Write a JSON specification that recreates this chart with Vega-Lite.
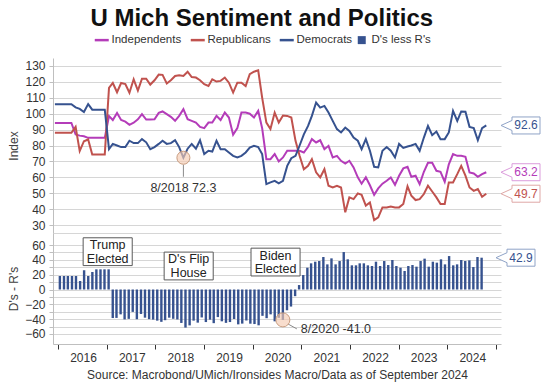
{
  "$schema": "https://vega.github.io/schema/vega-lite/v6.json",
  "background": "white",
  "padding": {"left": 7, "top": 6, "right": 2, "bottom": 2},
  "title": {"text": "U Mich Sentiment and Politics", "fontSize": 24, "fontWeight": "bold", "color": "#111111", "font": "Liberation Sans", "anchor": "middle", "offset": 3.5, "dx": -13},
  "datasets": {
    "main": [
      {"date":"2016-01-15","Independents":94.2,"Republicans":88,"Democrats":106,"DR":18.2},
      {"date":"2016-02-15","Independents":94.2,"Republicans":88,"Democrats":106,"DR":18.2},
      {"date":"2016-03-15","Independents":94.2,"Republicans":88,"Democrats":106,"DR":18.2},
      {"date":"2016-04-15","Independents":94.2,"Republicans":88,"Democrats":106,"DR":18.2},
      {"date":"2016-05-15","Independents":94.2,"Republicans":88,"Democrats":106,"DR":18.2},
      {"date":"2016-06-15","Independents":86.9,"Republicans":91.7,"Democrats":104,"DR":11.5},
      {"date":"2016-07-15","Independents":86.2,"Republicans":76.5,"Democrats":103,"DR":25.8},
      {"date":"2016-08-15","Independents":85.8,"Republicans":82.7,"Democrats":101,"DR":18.2},
      {"date":"2016-09-15","Independents":84.8,"Republicans":83.8,"Democrats":106,"DR":23.6},
      {"date":"2016-10-15","Independents":84.8,"Republicans":74.4,"Democrats":102.5,"DR":27.2},
      {"date":"2016-11-15","Independents":84.8,"Republicans":74.4,"Democrats":102.5,"DR":27.2},
      {"date":"2016-12-15","Independents":84.8,"Republicans":74.4,"Democrats":102.5,"DR":27.2},
      {"date":"2017-01-15","Independents":84.8,"Republicans":74.4,"Democrats":102.5,"DR":27.2},
      {"date":"2017-02-15","Independents":98.5,"Republicans":116.2,"Democrats":77.7,"DR":-38.5},
      {"date":"2017-03-15","Independents":96,"Republicans":119.3,"Democrats":81,"DR":-38.3},
      {"date":"2017-04-15","Independents":100.5,"Republicans":113.5,"Democrats":80,"DR":-33.5},
      {"date":"2017-05-15","Independents":96,"Republicans":119.3,"Democrats":79,"DR":-40.3},
      {"date":"2017-06-15","Independents":95,"Republicans":118.6,"Democrats":79,"DR":-39.6},
      {"date":"2017-07-15","Independents":93,"Republicans":113.2,"Democrats":83,"DR":-30.2},
      {"date":"2017-08-15","Independents":94.3,"Republicans":121.6,"Democrats":81.5,"DR":-40.1},
      {"date":"2017-09-15","Independents":96.4,"Republicans":114.5,"Democrats":81.5,"DR":-33},
      {"date":"2017-10-15","Independents":99.7,"Republicans":122,"Democrats":84,"DR":-38},
      {"date":"2017-11-15","Independents":96.3,"Republicans":122,"Democrats":82,"DR":-40},
      {"date":"2017-12-15","Independents":96.3,"Republicans":118.3,"Democrats":77.7,"DR":-40.6},
      {"date":"2018-01-15","Independents":96.5,"Republicans":121,"Democrats":79,"DR":-42},
      {"date":"2018-02-15","Independents":100.5,"Republicans":124.6,"Democrats":81,"DR":-43.6},
      {"date":"2018-03-15","Independents":101.4,"Republicans":124.4,"Democrats":83,"DR":-41.4},
      {"date":"2018-04-15","Independents":99.7,"Republicans":119,"Democrats":81,"DR":-38},
      {"date":"2018-05-15","Independents":98,"Republicans":121,"Democrats":81.5,"DR":-39.5},
      {"date":"2018-06-15","Independents":95.5,"Republicans":123.7,"Democrats":83.3,"DR":-40.4},
      {"date":"2018-07-15","Independents":98.6,"Republicans":124.1,"Democrats":79,"DR":-45.1},
      {"date":"2018-08-15","Independents":102.8,"Republicans":123.7,"Democrats":72.3,"DR":-51.4},
      {"date":"2018-09-15","Independents":96.5,"Republicans":126.4,"Democrats":78,"DR":-48.4},
      {"date":"2018-10-15","Independents":95.5,"Republicans":123,"Democrats":81,"DR":-42},
      {"date":"2018-11-15","Independents":94.4,"Republicans":122.7,"Democrats":78,"DR":-44.7},
      {"date":"2018-12-15","Independents":91.7,"Republicans":121,"Democrats":83.3,"DR":-37.7},
      {"date":"2019-01-15","Independents":90.9,"Republicans":118.5,"Democrats":74.6,"DR":-43.9},
      {"date":"2019-02-15","Independents":94.4,"Republicans":117.4,"Democrats":76.7,"DR":-40.7},
      {"date":"2019-03-15","Independents":94.4,"Republicans":121.6,"Democrats":76.2,"DR":-45.4},
      {"date":"2019-04-15","Independents":98.6,"Republicans":120.2,"Democrats":83,"DR":-37.2},
      {"date":"2019-05-15","Independents":96,"Republicans":120.6,"Democrats":77.7,"DR":-42.9},
      {"date":"2019-06-15","Independents":100.7,"Republicans":122.7,"Democrats":77.7,"DR":-45},
      {"date":"2019-07-15","Independents":97.6,"Republicans":119.5,"Democrats":75.6,"DR":-43.9},
      {"date":"2019-08-15","Independents":86.7,"Republicans":113.3,"Democrats":73.5,"DR":-39.8},
      {"date":"2019-09-15","Independents":90.9,"Republicans":119.5,"Democrats":72.5,"DR":-47},
      {"date":"2019-10-15","Independents":100.7,"Republicans":119.5,"Democrats":73.5,"DR":-46},
      {"date":"2019-11-15","Independents":100.7,"Republicans":117.4,"Democrats":75.6,"DR":-41.8},
      {"date":"2019-12-15","Independents":100,"Republicans":124.8,"Democrats":78.7,"DR":-46.1},
      {"date":"2020-01-15","Independents":97.6,"Republicans":126.4,"Democrats":79.8,"DR":-46.6},
      {"date":"2020-02-15","Independents":101.8,"Republicans":127.3,"Democrats":79,"DR":-48.3},
      {"date":"2020-03-15","Independents":90.9,"Republicans":110.1,"Democrats":74.6,"DR":-35.5},
      {"date":"2020-04-15","Independents":71.4,"Republicans":94.4,"Democrats":55.7,"DR":-38.7},
      {"date":"2020-05-15","Independents":71.4,"Republicans":90.3,"Democrats":56.8,"DR":-33.5},
      {"date":"2020-06-15","Independents":74.6,"Republicans":100.7,"Democrats":57.8,"DR":-42.9},
      {"date":"2020-07-15","Independents":70,"Republicans":94.4,"Democrats":56.2,"DR":-38.2},
      {"date":"2020-08-15","Independents":72.5,"Republicans":98.8,"Democrats":57.8,"DR":-41},
      {"date":"2020-09-15","Independents":76.7,"Republicans":98.6,"Democrats":67.2,"DR":-28},
      {"date":"2020-10-15","Independents":76.7,"Republicans":97.6,"Democrats":72,"DR":-23},
      {"date":"2020-11-15","Independents":76.7,"Republicans":82.9,"Democrats":73.5,"DR":-9},
      {"date":"2020-12-15","Independents":76.7,"Republicans":73.5,"Democrats":80,"DR":6},
      {"date":"2021-01-15","Independents":75.6,"Republicans":65.1,"Democrats":87,"DR":19.5},
      {"date":"2021-02-15","Independents":79.2,"Republicans":67.2,"Democrats":92.3,"DR":29.4},
      {"date":"2021-03-15","Independents":84,"Republicans":71.4,"Democrats":98.6,"DR":35.3},
      {"date":"2021-04-15","Independents":81.9,"Republicans":63.1,"Democrats":107,"DR":37.5},
      {"date":"2021-05-15","Independents":83.3,"Republicans":59.9,"Democrats":103.8,"DR":38.4},
      {"date":"2021-06-15","Independents":77.7,"Republicans":65.1,"Democrats":104.9,"DR":43.8},
      {"date":"2021-07-15","Independents":79.8,"Republicans":54.7,"Democrats":100.7,"DR":33.9},
      {"date":"2021-08-15","Independents":72.5,"Republicans":53.6,"Democrats":95.5,"DR":42},
      {"date":"2021-09-15","Independents":73.5,"Republicans":54.7,"Democrats":90.3,"DR":33.9},
      {"date":"2021-10-15","Independents":70.4,"Republicans":53.6,"Democrats":88.2,"DR":38.4},
      {"date":"2021-11-15","Independents":68.7,"Republicans":38,"Democrats":91.3,"DR":50.5},
      {"date":"2021-12-15","Independents":70.4,"Republicans":47.4,"Democrats":89.2,"DR":40.7},
      {"date":"2022-01-15","Independents":66.2,"Republicans":46.3,"Democrats":85,"DR":32.6},
      {"date":"2022-02-15","Independents":60,"Republicans":49.9,"Democrats":83,"DR":32.6},
      {"date":"2022-03-15","Independents":56,"Republicans":49,"Democrats":77.7,"DR":35.3},
      {"date":"2022-04-15","Independents":60,"Republicans":42.2,"Democrats":84,"DR":35.3},
      {"date":"2022-05-15","Independents":55,"Republicans":44.2,"Democrats":76.7,"DR":32.6},
      {"date":"2022-06-15","Independents":49,"Republicans":33.1,"Democrats":66.6,"DR":31.7},
      {"date":"2022-07-15","Independents":53,"Republicans":34.8,"Democrats":66.2,"DR":37.5},
      {"date":"2022-08-15","Independents":56,"Republicans":41.1,"Democrats":76.7,"DR":31.7},
      {"date":"2022-09-15","Independents":57.8,"Republicans":41.1,"Democrats":79,"DR":38.4},
      {"date":"2022-10-15","Independents":59.9,"Republicans":41.7,"Democrats":76.7,"DR":33},
      {"date":"2022-11-15","Independents":55.3,"Republicans":41.1,"Democrats":72.5,"DR":39.8},
      {"date":"2022-12-15","Independents":61,"Republicans":41.1,"Democrats":81,"DR":31.7},
      {"date":"2023-01-15","Independents":65.6,"Republicans":43.2,"Democrats":78.5,"DR":29.4},
      {"date":"2023-02-15","Independents":66.6,"Republicans":54.3,"Democrats":79.4,"DR":25},
      {"date":"2023-03-15","Independents":60.3,"Republicans":48.4,"Democrats":80,"DR":31.7},
      {"date":"2023-04-15","Independents":61,"Republicans":45.7,"Democrats":81,"DR":33},
      {"date":"2023-05-15","Independents":55.7,"Republicans":46.3,"Democrats":76.7,"DR":30.8},
      {"date":"2023-06-15","Independents":63.5,"Republicans":49.5,"Democrats":85,"DR":38.4},
      {"date":"2023-07-15","Independents":69.1,"Republicans":54.7,"Democrats":92.3,"DR":41.6},
      {"date":"2023-08-15","Independents":69.1,"Republicans":51.1,"Democrats":86.5,"DR":30.8},
      {"date":"2023-09-15","Independents":64.1,"Republicans":47.4,"Democrats":88.8,"DR":37.5},
      {"date":"2023-10-15","Independents":63.5,"Republicans":43.2,"Democrats":84,"DR":36.2},
      {"date":"2023-11-15","Independents":57.2,"Republicans":43.2,"Democrats":84,"DR":40.7},
      {"date":"2023-12-15","Independents":68.2,"Republicans":56.8,"Democrats":88.2,"DR":33.9},
      {"date":"2024-01-15","Independents":74.6,"Republicans":56.8,"Democrats":101.8,"DR":45.1},
      {"date":"2024-02-15","Independents":73.5,"Republicans":62,"Democrats":95.5,"DR":32.6},
      {"date":"2024-03-15","Independents":73.5,"Republicans":67.2,"Democrats":101.4,"DR":33.9},
      {"date":"2024-04-15","Independents":72.9,"Republicans":61,"Democrats":101.2,"DR":39.8},
      {"date":"2024-05-15","Independents":63.1,"Republicans":53.6,"Democrats":91.7,"DR":38.4},
      {"date":"2024-06-15","Independents":62.4,"Republicans":51.5,"Democrats":90.9,"DR":39.3},
      {"date":"2024-07-15","Independents":60.3,"Republicans":52.6,"Democrats":83.3,"DR":30.3},
      {"date":"2024-08-15","Independents":62,"Republicans":47.8,"Democrats":90.9,"DR":43.8},
      {"date":"2024-09-15","Independents":63.2,"Republicans":49.7,"Democrats":92.6,"DR":42.9}
    ],
    "lastTop": [
      {"series":"Democrats","value":92.6},
      {"series":"Independents","value":63.2},
      {"series":"Republicans","value":49.7}
    ],
    "lastBottom": [{"series":"D's less R's","value":42.9}],
    "noteTop": [{"date":"2018-08-15","value":72.3,"label":"8/2018 72.3"}],
    "noteBottom": [{"date":"2020-08-15","value":-41.0,"label":"8/2020 -41.0"}],
    "events": [
      {"date":"2017-01-08","value":51,"label":["Trump","Elected"]},
      {"date":"2018-09-08","value":31.7,"label":["D's Flip","House"]},
      {"date":"2020-06-21","value":37,"label":["Biden","Elected"]}
    ]
  },
  "spacing": 0,
  "resolve": {"scale": {"color": "shared"}, "legend": {"color": "shared"}},
  "vconcat": [
    {
      "width": 448,
      "height": 175,
      "layer": [
        {
          "data": {"name": "main"},
          "transform": [{"fold": ["Independents", "Republicans", "Democrats"], "as": ["series", "value"]}],
          "mark": {"type": "line", "strokeWidth": 2},
          "encoding": {
            "x": {"field": "date", "type": "temporal", "scale": {"domain": [{"year": 2016, "month": 1, "date": 1}, {"year": 2025, "month": 1, "date": 1}]},
              "axis": {"domain": true, "domainColor": "#d6d6d6", "ticks": false, "labels": false, "grid": false, "title": null, "minExtent": 0, "maxExtent": 0}},
            "y": {"field": "value", "type": "quantitative", "scale": {"domain": [25, 135], "nice": false, "zero": false},
              "axis": {"title": "Index", "values": [30, 40, 50, 60, 70, 80, 90, 100, 110, 120, 130], "tickCount": 50, "labelOverlap": false, "tickSize": 4, "labelPadding": 4, "titlePadding": 4, "grid": true, "gridColor": "#d6d6d6", "gridOpacity": 1, "gridWidth": 1}},
            "color": {"field": "series", "type": "nominal",
              "scale": {"domain": ["Independents", "Republicans", "Democrats", "D's less R's"], "range": ["#b43cb9", "#c0524e", "#36528f", "#36528f"]},
              "legend": {"orient": "none", "legendX": 43, "legendY": -24, "direction": "horizontal", "title": null, "labelFontSize": 11.5, "labelColor": "#333333", "symbolType": "stroke", "symbolStrokeWidth": 2.5, "symbolSize": 196, "columnPadding": 3, "labelOffset": 4,
                "encode": {"symbols": {"update": {
                  "shape": {"signal": "datum.label === \"D's less R's\" ? 'square' : 'stroke'"},
                  "size": {"signal": "datum.label === \"D's less R's\" ? 64 : 196"},
                  "fill": {"scale": "color", "field": "value"},
                  "stroke": {"scale": "color", "field": "value"},
                  "strokeWidth": {"signal": "datum.label === \"D's less R's\" ? 0 : 2.5"},
                  "opacity": {"value": 1}
                }}}}
            }
          }
        },
        {
          "data": {"name": "noteTop"},
          "mark": {"type": "rule", "color": "#8a8a8a", "strokeWidth": 1, "yOffset": 7, "y2Offset": 19},
          "encoding": {
            "x": {"field": "date", "type": "temporal"},
            "y": {"field": "value", "type": "quantitative"},
            "y2": {"field": "value"}
          }
        },
        {
          "data": {"name": "noteTop"},
          "mark": {"type": "point", "filled": true, "size": 170, "fill": "#f4cbb2", "fillOpacity": 0.65, "stroke": "#c99d80", "strokeWidth": 1, "opacity": 1},
          "encoding": {
            "x": {"field": "date", "type": "temporal"},
            "y": {"field": "value", "type": "quantitative"}
          }
        },
        {
          "data": {"name": "noteTop"},
          "mark": {"type": "text", "fontSize": 12.5, "color": "#333333", "dy": 30, "baseline": "middle", "align": "center"},
          "encoding": {
            "x": {"field": "date", "type": "temporal"},
            "y": {"field": "value", "type": "quantitative"},
            "text": {"field": "label"}
          }
        },
        {
          "data": {"name": "lastTop"},
          "mark": {"type": "point", "shape": "M0,0L1.1,-0.5L1.1,-0.85L3.9,-0.85L3.9,0.85L1.1,0.85L1.1,0.5Z", "size": 400, "filled": false, "fill": "white", "fillOpacity": 1, "strokeWidth": 1, "opacity": 1},
          "encoding": {
            "x": {"datum": {"year": 2025, "month": 1, "date": 1}, "type": "temporal"},
            "y": {"field": "value", "type": "quantitative"},
            "stroke": {"field": "series", "type": "nominal", "scale": {"domain": ["Democrats", "Independents", "Republicans"], "range": ["#8fa3c7", "#db9cdc", "#dfa8a6"]}, "legend": null}
          }
        },
        {
          "data": {"name": "lastTop"},
          "mark": {"type": "text", "fontSize": 12, "dx": 25, "baseline": "middle", "align": "center"},
          "encoding": {
            "x": {"datum": {"year": 2025, "month": 1, "date": 1}, "type": "temporal"},
            "y": {"field": "value", "type": "quantitative"},
            "text": {"field": "value", "type": "quantitative", "format": ".1f"},
            "color": {"field": "series", "type": "nominal"}
          }
        }
      ]
    },
    {
      "width": 448,
      "height": 111,
      "layer": [
        {
          "data": {"name": "main"},
          "mark": {"type": "bar", "size": 2.4},
          "encoding": {
            "x": {"field": "date", "type": "temporal", "scale": {"domain": [{"year": 2016, "month": 1, "date": 1}, {"year": 2025, "month": 1, "date": 1}]},
              "axis": {"values": [{"year": 2016, "month": 1, "date": 1}, {"year": 2017, "month": 1, "date": 1}, {"year": 2018, "month": 1, "date": 1}, {"year": 2019, "month": 1, "date": 1}, {"year": 2020, "month": 1, "date": 1}, {"year": 2021, "month": 1, "date": 1}, {"year": 2022, "month": 1, "date": 1}, {"year": 2023, "month": 1, "date": 1}, {"year": 2024, "month": 1, "date": 1}, {"year": 2025, "month": 1, "date": 1}],
                "tickCount": 50, "format": "%Y", "labelExpr": "year(datum.value) >= 2025 ? '' : datum.label", "labelOffset": 25, "labelFlush": false, "labelOverlap": false, "labelBound": false,
                "tickSize": 5, "tickColor": "#333333", "labelPadding": 3, "grid": false,
                "title": "Source: Macrobond/UMich/Ironsides Macro/Data as of September 2024", "titlePadding": 6, "titleColor": "#333333"}},
            "y": {"field": "DR", "type": "quantitative", "scale": {"domain": [-73.5, 76.2], "nice": false, "zero": false},
              "axis": {"title": "D's - R's", "values": [-60, -50, -40, -30, -20, -10, 0, 10, 20, 30, 40, 50, 60], "tickCount": 50, "labelExpr": "datum.value % 20 == 0 ? datum.label : ''", "labelOverlap": false, "tickSize": 4, "labelPadding": 4, "titlePadding": 4, "grid": true, "gridColor": "#d6d6d6", "gridOpacity": 1, "gridWidth": 1}},
            "color": {"datum": "D's less R's", "type": "nominal"}
          }
        },
        {
          "data": {"name": "events"},
          "mark": {"type": "point", "shape": "M-1.5,-0.85L1.5,-0.85L1.5,0.85L-1.5,0.85Z", "size": 1070, "filled": false, "fill": "white", "fillOpacity": 1, "stroke": "#595959", "strokeWidth": 1, "opacity": 1},
          "encoding": {
            "x": {"field": "date", "type": "temporal"},
            "y": {"field": "value", "type": "quantitative"}
          }
        },
        {
          "data": {"name": "events"},
          "mark": {"type": "text", "fontSize": 12.5, "color": "#222222", "lineHeight": 13.5, "baseline": "middle", "align": "center", "dy": -6.5},
          "encoding": {
            "x": {"field": "date", "type": "temporal"},
            "y": {"field": "value", "type": "quantitative"},
            "text": {"field": "label"}
          }
        },
        {
          "data": {"name": "noteBottom"},
          "mark": {"type": "rule", "color": "#8a8a8a", "strokeWidth": 1, "xOffset": 5, "yOffset": 4, "x2Offset": 14, "y2Offset": 9},
          "encoding": {
            "x": {"field": "date", "type": "temporal"},
            "x2": {"field": "date"},
            "y": {"field": "value", "type": "quantitative"},
            "y2": {"field": "value"}
          }
        },
        {
          "data": {"name": "noteBottom"},
          "mark": {"type": "point", "filled": true, "size": 196, "fill": "#f4cbb2", "fillOpacity": 0.65, "stroke": "#c99d80", "strokeWidth": 1, "opacity": 1},
          "encoding": {
            "x": {"field": "date", "type": "temporal"},
            "y": {"field": "value", "type": "quantitative"}
          }
        },
        {
          "data": {"name": "noteBottom"},
          "mark": {"type": "text", "fontSize": 12.5, "color": "#333333", "dx": 18, "dy": 9, "baseline": "middle", "align": "left"},
          "encoding": {
            "x": {"field": "date", "type": "temporal"},
            "y": {"field": "value", "type": "quantitative"},
            "text": {"field": "label"}
          }
        },
        {
          "data": {"name": "lastBottom"},
          "mark": {"type": "point", "shape": "M0,0L1.1,-0.5L1.1,-0.85L3.9,-0.85L3.9,0.85L1.1,0.85L1.1,0.5Z", "size": 400, "filled": false, "fill": "white", "fillOpacity": 1, "stroke": "#8fa3c7", "strokeWidth": 1, "opacity": 1},
          "encoding": {
            "x": {"datum": {"year": 2025, "month": 1, "date": 1}, "type": "temporal"},
            "y": {"field": "value", "type": "quantitative"}
          }
        },
        {
          "data": {"name": "lastBottom"},
          "mark": {"type": "text", "fontSize": 12, "dx": 25, "baseline": "middle", "align": "center", "color": "#36528f"},
          "encoding": {
            "x": {"datum": {"year": 2025, "month": 1, "date": 1}, "type": "temporal"},
            "y": {"field": "value", "type": "quantitative"},
            "text": {"field": "value", "type": "quantitative", "format": ".1f"}
          }
        }
      ]
    }
  ],
  "config": {
    "font": "Liberation Sans",
    "view": {"stroke": null},
    "axis": {"labelFont": "Liberation Sans", "titleFont": "Liberation Sans", "labelFontSize": 12, "titleFontSize": 12, "labelColor": "#333333", "titleColor": "#404040", "titleFontWeight": "normal", "domainColor": "#bfbfbf", "gridColor": "#d6d6d6", "tickColor": "#bfbfbf"},
    "legend": {"labelFont": "Liberation Sans"},
    "text": {"font": "Liberation Sans"}
  }
}
